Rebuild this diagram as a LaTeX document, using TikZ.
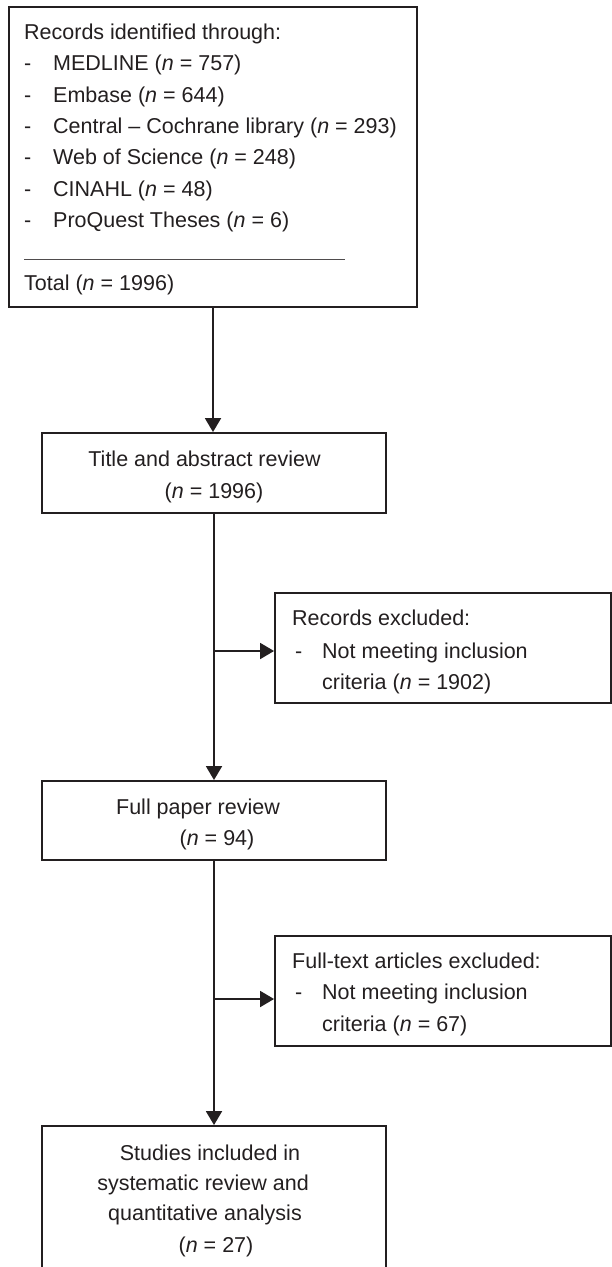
\documentclass[tikz,border=0pt]{standalone}
\usepackage{fontspec}
\setmainfont{Liberation Sans}
\usetikzlibrary{arrows.meta}
\definecolor{ink}{HTML}{231F20}
\begin{document}
\begin{tikzpicture}[x=1pt,y=-1pt,
  box/.style={draw=ink,line width=1.9pt,inner sep=0pt,rectangle},
  txt/.style={inner sep=0pt,font=\fontsize{21.5}{25}\selectfont,text=ink},
  lt/.style={txt,anchor=base west},
  ct/.style={txt,anchor=base},
  link/.style={draw=ink,line width=1.9pt},
  arr/.style={link,-{Triangle[width=16pt,length=14pt]}}]
\clip (0,0) rectangle (612,1267);
\fill[white] (0,0) rectangle (612,1267);
% boxes
\node[box,minimum width=408pt,minimum height=300pt] (src) at (213,157) {};
\node[box,minimum width=344pt,minimum height=80pt] (title) at (214,473) {};
\node[box,minimum width=336pt,minimum height=110pt] (ex1) at (443,648) {};
\node[box,minimum width=344pt,minimum height=79pt] (full) at (214,820.5) {};
\node[box,minimum width=336pt,minimum height=110pt] (ex2) at (443,991) {};
\node[box,minimum width=344pt,minimum height=170pt] (final) at (214,1211) {};
% source box text
\node[lt] (s0) at (24,39) {Records identified through:};
\node[lt] (d1) at (24,70) {-};
\node[lt] (s1) at (53,70) {MEDLINE (\textit{n} = 757)};
\node[lt] (d2) at (24,102) {-};
\node[lt] (s2) at (53,102) {Embase (\textit{n} = 644)};
\node[lt] (d3) at (24,133) {-};
\node[lt] (s3) at (53,133) {Central -- Cochrane library (\textit{n} = 293)};
\node[lt] (d4) at (24,164) {-};
\node[lt] (s4) at (53,164) {Web of Science (\textit{n} = 248)};
\node[lt] (d5) at (24,196) {-};
\node[lt] (s5) at (53,196) {CINAHL (\textit{n} = 48)};
\node[lt] (d6) at (24,227) {-};
\node[lt] (s6) at (53,227) {ProQuest Theses (\textit{n} = 6)};
\coordinate (r1) at (24,259);
\coordinate (r2) at (345,259);
\draw[draw=ink!80,line width=0.8pt] (r1) -- (r2);
\node[lt] (tot) at (24,290) {Total (\textit{n} = 1996)};
% title box
\node[ct] (t1) at (204.5,466) {Title and abstract review};
\node[ct] (t2) at (214,498) {(\textit{n} = 1996)};
% exclusion 1
\node[lt] (e1a) at (292,625) {Records excluded:};
\node[lt] (e1d) at (295,658) {-};
\node[lt] (e1b) at (322,658) {Not meeting inclusion};
\node[lt] (e1c) at (322,689) {criteria (\textit{n} = 1902)};
% full paper
\node[ct] (f1) at (198,814) {Full paper review};
\node[ct] (f2) at (217,845) {(\textit{n} = 94)};
% exclusion 2
\node[lt] (e2a) at (292,968) {Full-text articles excluded:};
\node[lt] (e2d) at (295,999) {-};
\node[lt] (e2b) at (322,999) {Not meeting inclusion};
\node[lt] (e2c) at (322,1031) {criteria (\textit{n} = 67)};
% final
\node[ct] (g1) at (210,1160) {Studies included in};
\node[ct] (g2) at (203,1190) {systematic review and};
\node[ct] (g3) at (205,1220) {quantitative analysis};
\node[ct] (g4) at (216,1252) {(\textit{n} = 27)};
% connectors
\draw[arr] (src.south) -- (src.south |- title.north);
\draw[arr] (title.south) -- (full.north);
\draw[arr] (full.south) -- (final.north);
\coordinate (b1) at (214,651);
\coordinate (b2) at (214,999);
\draw[arr] (b1) -- (b1 -| ex1.west);
\draw[arr] (b2) -- (b2 -| ex2.west);
\end{tikzpicture}
\end{document}
